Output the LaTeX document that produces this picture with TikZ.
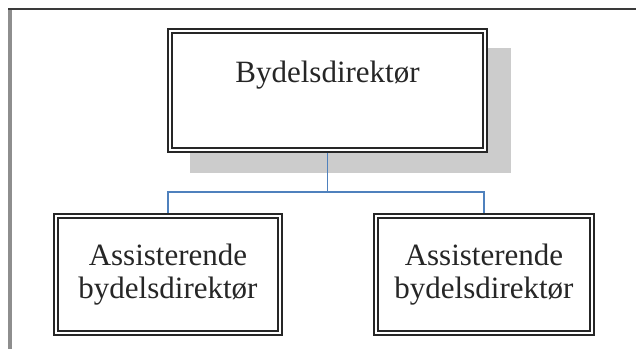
\documentclass[tikz,border=0pt]{standalone}
\usepackage{fontspec}
\setmainfont{Liberation Serif}
\usetikzlibrary{backgrounds}
\definecolor{linkblue}{HTML}{4F81BD}
\definecolor{shadowgray}{HTML}{CCCCCC}
\definecolor{frametop}{HTML}{3A3A3A}
\definecolor{frameside}{HTML}{8E8E8E}
\tikzset{
  orgbox/.style={draw=black!85, double=white, double distance=2pt,
    line width=1.8pt, fill=white, inner sep=0pt, text=black!85,
    font=\fontsize{31}{33}\selectfont},
  childbox/.style={orgbox, align=center, minimum height=117.4pt},
  link/.style={draw=linkblue, line width=1.5pt},
}
\begin{document}
\begin{tikzpicture}[x=1pt, y=-1pt]
  \useasboundingbox (0,0) rectangle (636,349);

  % boxes
  \node[orgbox, anchor=north, minimum width=315.4pt,
        text height=52.2pt, text depth=67.2pt] (top) at (327.5,29.8) {Bydelsdirektør};
  \node[childbox, minimum width=224.4pt] (left) at (168,274.5) {Assisterende\\bydelsdirektør};
  \node[childbox, minimum width=216.4pt] (right) at (484,274.5) {Assisterende\\bydelsdirektør};

  \coordinate (split) at (327.5,192);

  \begin{scope}[on background layer]
    \fill[white] (0,0) rectangle (636,349);
    % page frame
    \draw[frameside, line width=3.5pt] (10,8) -- (10,349);
    \draw[frametop, line width=2pt] (8,8.5) -- (636,8.5);
    % drop shadow of the director box
    \fill[shadowgray] (190,48) rectangle (511,173);
    % reporting lines
    \draw[link] (top.south) -- (split);
    \draw[link] (split) -| (left.north);
    \draw[link] (split) -| (right.north);
  \end{scope}
\end{tikzpicture}
\end{document}
